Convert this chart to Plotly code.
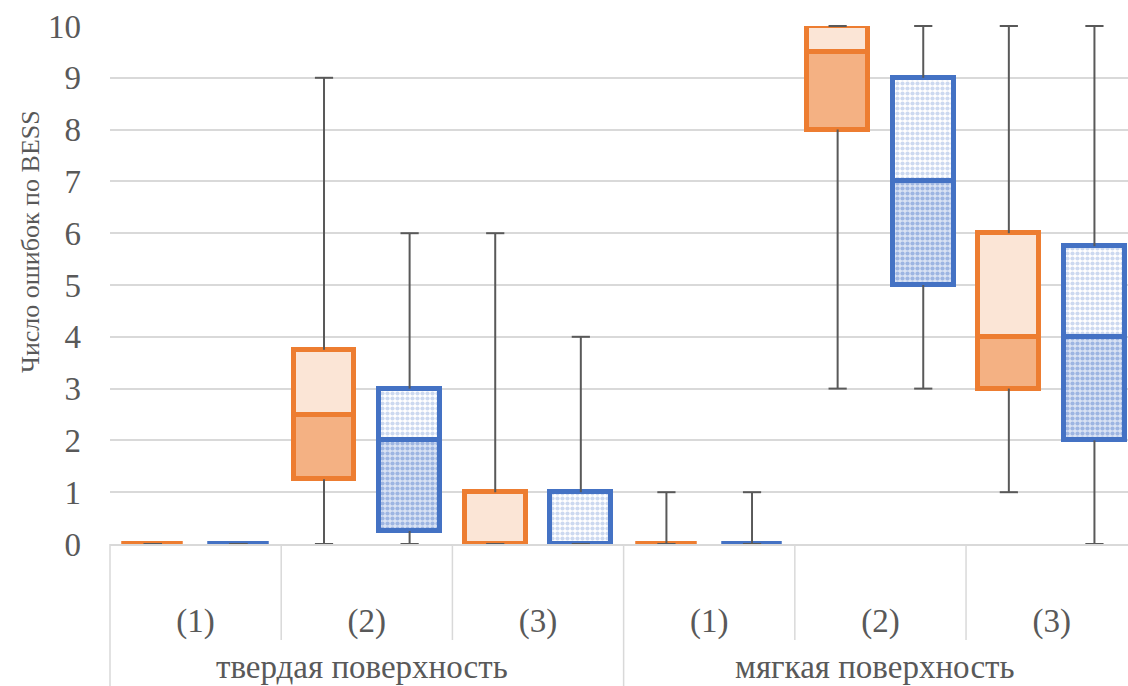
import plotly.graph_objects as go

# ---- data ----
categories = ["(1)", "(2)", "(3)", "(1)", "(2)", "(3)"]
groups = ["твердая поверхность", "мягкая поверхность"]
group_size = 3
y_title = "Число ошибок по BESS"

orange_min = [0, 0, 0, 0, 3, 1]
orange_q1 = [0, 1.25, 0, 0, 8, 3]
orange_med = [0, 2.5, 0, 0, 9.5, 4]
orange_q3 = [0, 3.75, 1, 0, 10, 6]
orange_max = [0, 9, 6, 1, 10, 10]

blue_min = [0, 0, 0, 0, 3, 0]
blue_q1 = [0, 0.25, 0, 0, 5, 2]
blue_med = [0, 2, 0, 0, 7, 4]
blue_q3 = [0, 3, 1, 0, 9, 5.75]
blue_max = [0, 6, 4, 1, 10, 10]

y_ticks = list(range(0, 11))

# ---- styles ----
FONT = "Liberation Serif"
TXT = "#595959"
GRID = "#D9D9D9"
WHISK = "#595959"
BOX_W = 0.355
OFF = 0.25
LW = 5
XMIN, XMAX = -0.5, 5.446
W, H = 1128, 686
ML, MT, MB = 110, 26, 142
PLOT_H = H - MT - MB
PLOT_W = W - ML

series = [
    dict(name="Серия 1", off=-OFF, mn=orange_min, q1=orange_q1, med=orange_med, q3=orange_q3, mx=orange_max,
         line="#ED7D31",
         lower=dict(color="#F4B183"),
         upper=dict(color="#FBE5D6")),
    dict(name="Серия 2", off=OFF, mn=blue_min, q1=blue_q1, med=blue_med, q3=blue_q3, mx=blue_max,
         line="#4472C4",
         lower=dict(color="#D3DFF3", pattern=dict(shape=".", fillmode="replace", bgcolor="#DAE3F4",
                                                  fgcolor="#9DB5E2", size=5, solidity=0.55)),
         upper=dict(color="#EEF2FA", pattern=dict(shape=".", fillmode="replace", bgcolor="#FFFFFF",
                                                  fgcolor="#CCD9F0", size=5, solidity=0.55))),
]

fig = go.Figure()
idx = list(range(len(categories)))

for s in series:
    xs = [i + s["off"] for i in idx]
    # lower half of box: Q1 -> median
    fig.add_trace(go.Bar(
        x=xs, y=[m - q for m, q in zip(s["med"], s["q1"])], base=s["q1"], width=BOX_W,
        marker=dict(line=dict(color=s["line"], width=LW), **s["lower"]),
        name=s["name"], showlegend=False, cliponaxis=False, hoverinfo="skip"))
    # upper half of box: median -> Q3
    fig.add_trace(go.Bar(
        x=xs, y=[q - m for q, m in zip(s["q3"], s["med"])], base=s["med"], width=BOX_W,
        marker=dict(line=dict(color=s["line"], width=LW), **s["upper"]),
        name=s["name"], showlegend=False, cliponaxis=False, hoverinfo="skip"))

for s in series:
    xs = [i + s["off"] for i in idx]
    wx, wy = [], []
    for x, a, b, c, d in zip(xs, s["mn"], s["q1"], s["q3"], s["mx"]):
        wx += [x, x, None, x, x, None]
        wy += [a, b, None, c, d, None]
    fig.add_trace(go.Scatter(x=wx, y=wy, mode="lines", line=dict(color=WHISK, width=2),
                             showlegend=False, hoverinfo="skip", cliponaxis=False))
    fig.add_trace(go.Scatter(x=xs + xs, y=s["mn"] + s["mx"], mode="markers",
                             marker=dict(symbol="line-ew", size=13, line=dict(color=WHISK, width=2)),
                             showlegend=False, hoverinfo="skip", cliponaxis=False))


def xp(v):
    return (v - XMIN) / (XMAX - XMIN)


short_y = -(640 - 544) / PLOT_H
long_y = -(686 - 544) / PLOT_H
shapes = []
for k in range(len(categories) + 1):
    bx = k - 0.5
    if bx > XMAX:
        continue
    y1 = long_y if k % group_size == 0 else short_y
    shapes.append(dict(type="line", xref="paper", yref="paper", x0=xp(bx), x1=xp(bx), y0=0, y1=y1,
                       line=dict(color=GRID, width=1.5)))

annotations = []
for g, name in enumerate(groups):
    annotations.append(dict(text=name, xref="x", yref="paper", x=g * group_size + (group_size - 1) / 2 - 0.03,
                            y=-(667 - 544) / PLOT_H, showarrow=False, yanchor="middle",
                            font=dict(family=FONT, size=33, color=TXT)))
annotations.append(dict(text=y_title, xref="paper", yref="paper", x=-(110 - 30) / PLOT_W,
                        y=(544 - 242) / PLOT_H, textangle=-90, showarrow=False,
                        xanchor="center", yanchor="middle",
                        font=dict(family=FONT, size=26, color=TXT)))

fig.update_layout(
    width=W, height=H,
    margin=dict(l=ML, r=0, t=MT, b=MB),
    paper_bgcolor="white", plot_bgcolor="white",
    barmode="overlay", bargap=0,
    showlegend=False,
    font=dict(family=FONT, color=TXT),
    shapes=shapes, annotations=annotations,
    xaxis=dict(range=[XMIN, XMAX], tickmode="array", tickvals=idx, ticktext=categories,
               showgrid=False, zeroline=False, showline=True, linecolor=GRID, linewidth=1.5,
               ticks="", ticklabelstandoff=47, tickfont=dict(family=FONT, size=33, color=TXT)),
    yaxis=dict(range=[0, 10], tickmode="array", tickvals=y_ticks, showgrid=True, gridcolor=GRID,
               gridwidth=1.5, zeroline=False, showline=False, ticks="", ticklabelstandoff=28,
               tickfont=dict(family=FONT, size=33, color=TXT)),
)

fig.write_html("out.html", config={"displayModeBar": False},
               post_script="document.body.style.margin='0px';")
